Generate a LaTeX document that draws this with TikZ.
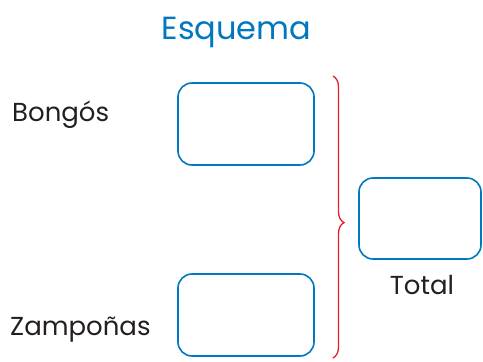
\documentclass[tikz,border=0pt]{standalone}
\usepackage{fontspec}
\setmainfont{Poppins}
\usetikzlibrary{positioning,decorations.pathreplacing}
\definecolor{titleblue}{RGB}{0,119,192}
\definecolor{boxblue}{RGB}{0,120,194}
\definecolor{bracered}{RGB}{230,30,40}
\definecolor{textgray}{RGB}{35,31,32}

\begin{document}
\begin{tikzpicture}[
  x=1pt, y=1pt,
  node distance=10pt,
  blank/.style={rectangle, draw=boxblue, line width=1.6pt, rounded corners=14pt, minimum width=136pt, minimum height=82pt},
  label/.style={font=\fontsize{26}{28}\selectfont, text=textgray, inner sep=0pt},
  bracket/.style={draw=bracered, line width=1.3pt, decorate, decoration={brace, amplitude=11pt, aspect=0.52}}
]
  \useasboundingbox (0,0) rectangle (483,-362);
  % Title
  \node[font=\fontsize{32}{34}\selectfont, text=titleblue, inner sep=0pt, anchor=base] (title) at (236.5,-39) {Esquema};
  % Left side
  \node[label, anchor=base west] (bongos) at (12,-121) {Bongós};
  \node[label, anchor=base west] (zampo) at (10,-335) {Zampoñas};
  \node[blank] (boxbongos) at (246,-124) {};
  \node[blank] (boxzampo) at (246,-315) {};
  % Brace
  \coordinate (bracetop) at (333,-76);
  \coordinate (bracebot) at (333,-358);
  \draw[bracket] (bracetop) -- (bracebot);
  % Total
  \node[blank, minimum width=122pt, minimum height=81pt] (boxtotal) at (420,-218.5) {};
  \node[label, anchor=base] (total) at (422,-294) {Total};
\end{tikzpicture}
\end{document}
